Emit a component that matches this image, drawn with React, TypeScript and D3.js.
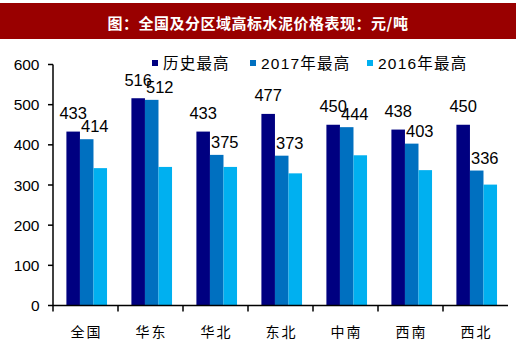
import React from 'react';
import * as d3 from 'd3';

// regions and series (yuan / ton)
const regions = ['全国', '华东', '华北', '东北', '中南', '西南', '西北'];
const seriesNames = ['历史最高', '2017年最高', '2016年最高'];
const histHigh = [433, 516, 433, 477, 450, 438, 450];
const high2017 = [414, 512, 375, 373, 444, 403, 336];
const high2016 = [342, 345, 345, 329, 374, 337, 301];
const yTicks = [0, 100, 200, 300, 400, 500, 600];

const colors = ['#000080', '#0070c0', '#00b0f0'];
const numFont = '"Liberation Sans", Arial, sans-serif';
const cjkFont = '"Liberation Sans", "Noto Sans CJK SC", sans-serif';

const W = 520;
const H = 354;
const plot = { left: 53, right: 508, top: 64.5, bottom: 305.5 };

export default function App() {
  const series = [histHigh, high2017, high2016];

  const x0 = d3.scaleBand<string>()
    .domain(regions)
    .range([plot.left, plot.right])
    .paddingInner(0)
    .paddingOuter(0);

  const x1 = d3.scaleBand<number>()
    .domain([0, 1, 2])
    .range([0, x0.bandwidth()])
    .paddingInner(0)
    .paddingOuter(0.9)
    .align(0.55);

  const y = d3.scaleLinear()
    .domain([0, 600])
    .range([plot.bottom, plot.top]);

  // legend layout
  const legendX = [152, 250, 367];

  return (
    <svg
      width={W}
      height={H}
      style={{ position: 'absolute', left: 0, top: 0, display: 'block', background: '#fff' }}
    >
      {/* title bar */}
      <rect x={0} y={3} width={516} height={36} fill="#990000" />
      <text
        x={258}
        y={22}
        textAnchor="middle"
        dominantBaseline="central"
        fill="#fff"
        fontFamily='"Noto Sans CJK SC", sans-serif'
        fontWeight="bold"
        fontSize={15}
        letterSpacing={0.5}
      >
        图：全国及分区域高标水泥价格表现：元/吨
      </text>

      {/* legend */}
      {seriesNames.map((name, i) => (
        <g key={name} transform={`translate(${legendX[i]},63)`}>
          <rect x={0} y={-3} width={6} height={6} fill={colors[i]} />
          <text
            x={11}
            y={0}
            dominantBaseline="central"
            fontFamily={cjkFont}
            fontSize={15.5}
            letterSpacing={1.2}
            fill="#000"
          >
            {name}
          </text>
        </g>
      ))}

      {/* bars */}
      {regions.map((r, ri) => (
        <g key={r} transform={`translate(${x0(r)},0)`}>
          {series.map((s, si) => (
            <rect
              key={si}
              x={x1(si)}
              y={y(s[ri])}
              width={x1.bandwidth()}
              height={y(0) - y(s[ri])}
              fill={colors[si]}
            />
          ))}
        </g>
      ))}

      {/* data labels: historical high and 2017 high */}
      {regions.map((r, ri) => {
        const bx = (si: number) => (x0(r) as number) + (x1(si) as number) + x1.bandwidth() / 2;
        return (
          <g key={'lab' + r} fontFamily={numFont} fontSize={16.5} fill="#000">
            <text x={bx(0)} y={y(histHigh[ri]) - 12.5} textAnchor="middle">
              {histHigh[ri]}
            </text>
            <text x={bx(1) + 8} y={y(high2017[ri]) - 7} textAnchor="middle">
              {high2017[ri]}
            </text>
          </g>
        );
      })}

      {/* y axis */}
      <line x1={plot.left} x2={plot.left} y1={plot.top} y2={plot.bottom} stroke="#000" strokeWidth={1.5} />
      {yTicks.map((t) => (
        <g key={t}>
          <line x1={plot.left - 5} x2={plot.left} y1={y(t)} y2={y(t)} stroke="#000" strokeWidth={1.5} />
          <text
            x={39.5}
            y={y(t)}
            textAnchor="end"
            dominantBaseline="central"
            fontFamily={numFont}
            fontSize={15.5}
            fill="#000"
          >
            {t}
          </text>
        </g>
      ))}

      {/* x axis */}
      <line x1={plot.left} x2={plot.right} y1={plot.bottom} y2={plot.bottom} stroke="#000" strokeWidth={1.5} />
      {regions.map((r) => (
        <g key={'xt' + r}>
          <line
            x1={x0(r)}
            x2={x0(r)}
            y1={plot.bottom}
            y2={plot.bottom + 6}
            stroke="#000"
            strokeWidth={1.5}
          />
          <text
            x={(x0(r) as number) + x0.bandwidth() / 2 + 1}
            y={330.5}
            textAnchor="middle"
            dominantBaseline="central"
            fontFamily='"Noto Sans CJK SC", sans-serif'
            fontSize={14}
            letterSpacing={2}
            fill="#000"
          >
            {r}
          </text>
        </g>
      ))}
    </svg>
  );
}
